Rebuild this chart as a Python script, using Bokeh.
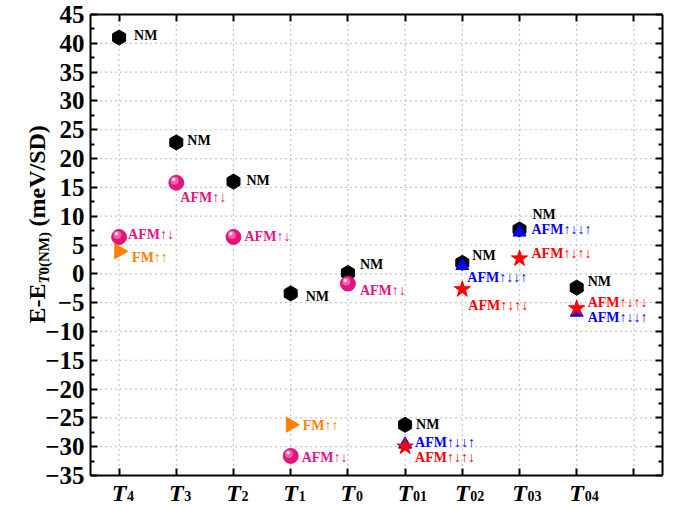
import numpy as np
from bokeh.plotting import figure
from bokeh.models import (Range1d, FixedTicker, LinearAxis,
                          Label, ColumnDataSource, CustomJSTickFormatter)
from bokeh.core.properties import value
from bokeh.transform import dodge
from bokeh.embed import file_html
from bokeh.resources import INLINE

# ---------------- data ----------------
categories = ["T4", "T3", "T2", "T1", "T0", "T01", "T02", "T03", "T04"]
tick_main = ["T"] * 9
tick_sub = ["4", "3", "2", "1", "0", "01", "02", "03", "04"]
x_ticks = [1, 2, 3, 4, 5, 6, 7, 8, 9, 10]
y_ticks = [-35, -30, -25, -20, -15, -10, -5, 0, 5, 10, 15, 20, 25, 30, 35, 40, 45]

nm_cats = ["T4", "T3", "T2", "T1", "T0", "T01", "T02", "T03", "T04"]
nm_vals = [41.0, 22.8, 16.0, -3.4, 0.15, -26.2, 1.9, 7.7, -2.4]

afm2_cats = ["T4", "T3", "T2", "T1", "T0"]
afm2_vals = [6.4, 15.8, 6.4, -31.6, -1.7]

fm_cats = ["T4", "T1"]
fm_vals = [3.9, -26.2]

afm4a_cats = ["T01", "T02", "T03", "T04"]      # AFM up-down-down-up (blue)
afm4a_vals = [-29.6, 1.4, 7.2, -6.7]

afm4b_cats = ["T01", "T02", "T03", "T04"]      # AFM up-down-up-down (red)
afm4b_vals = [-30.0, -2.7, 2.65, -6.0]

nm_label = "NM"
afm2_label = "AFM↑↓"
fm_label = "FM↑↑"
afm4a_label = "AFM↑↓↓↑"
afm4b_label = "AFM↑↓↑↓"

# label offsets (pixels) - style only
nm_dx = [15, 11, 13, 15, 12, 11, 10, 13, 11]
nm_dy = [-2, -2, -1, 3, -8, 0, -7, -15, -6]
afm2_dx = [9, 4, 11, 11, 12]
afm2_dy = [-2, 15, 0, 2, 7]
fm_dx = [13, 12]
fm_dy = [6, 1]
afm4a_dx = [10, 5, 12, 11]
afm4a_dy = [-2, 12, -3, 5]
afm4b_dx = [10, 6, 12, 11]
afm4b_dy = [11, 16, -5, -6]

pos = {c: i + 1 for i, c in enumerate(categories)}

SERIF = "Liberation Serif"
PINK = "#E6137E"
ORANGE = "#FF8000"
BLUE = "#0000FF"
RED = "#FF0000"

# ---------------- geometry (canvas px) ----------------
W, H = 679, 506
BOX_L, BOX_R, BOX_T, BOX_B = 90, 662, 14, 475
X0, X1, Y0, Y1 = 0.5, 10.5, -35, 45
sx = (BOX_R - BOX_L) / (X1 - X0)
sy = (BOX_B - BOX_T) / (Y1 - Y0)

p = figure(width=W, height=H, output_backend="svg", toolbar_location=None,
           x_range=Range1d(X0 - BOX_L / sx, X1 + (W - BOX_R) / sx),
           y_range=Range1d(Y0 - (H - BOX_B) / sy, Y1 + BOX_T / sy),
           min_border=0, x_axis_location=None, y_axis_location=None)
p.background_fill_color = "white"
p.border_fill_color = "white"
p.outline_line_color = None
p.xgrid.visible = False
p.ygrid.visible = False

xticker = FixedTicker(ticks=x_ticks, minor_ticks=[])
yticker = FixedTicker(ticks=y_ticks,
                      minor_ticks=[t + 2.5 for t in y_ticks[:-1]])
blank = CustomJSTickFormatter(code="return ''")

# grid lines (dotted) at the tick positions
p.segment(x0=x_ticks, y0=Y0, x1=x_ticks, y1=Y1, line_color="#8c8c8c",
          line_dash="1 4", line_width=1.2)
p.segment(x0=X0, y0=y_ticks, x1=X1, y1=y_ticks, line_color="#8c8c8c",
          line_dash="1 4", line_width=1.2)


def make_axis(ticker, loc, bounds, show_labels):
    ax = LinearAxis(ticker=ticker, fixed_location=loc, bounds=bounds)
    ax.axis_line_color = "black"
    ax.axis_line_width = 2
    ax.major_tick_line_color = "black"
    ax.major_tick_line_width = 2
    ax.major_tick_in = 7
    ax.major_tick_out = 0
    ax.minor_tick_line_color = "black"
    ax.minor_tick_line_width = 2
    ax.minor_tick_in = 4
    ax.minor_tick_out = 0
    if show_labels:
        ax.major_label_text_font = SERIF
        ax.major_label_text_font_style = "bold"
        ax.major_label_text_font_size = "25px"
        ax.major_label_text_color = "black"
        ax.major_label_standoff = 6
    else:
        ax.formatter = blank
        ax.major_label_standoff = 0
    return ax


p.add_layout(make_axis(yticker, X0, (Y0, Y1), True), "left")
p.add_layout(make_axis(yticker, X1, (Y0, Y1), False), "right")
p.add_layout(make_axis(xticker, Y0, (X0, X1), False), "below")
p.add_layout(make_axis(xticker, Y1, (X0, X1), False), "above")


def src(cats, vals, label, dx, dy):
    return ColumnDataSource(dict(x=[pos[c] for c in cats], y=vals,
                                 label=[label] * len(cats), dx=dx, dy=dy))


s_nm = src(nm_cats, nm_vals, nm_label, nm_dx, nm_dy)
s_afm2 = src(afm2_cats, afm2_vals, afm2_label, afm2_dx, afm2_dy)
s_fm = src(fm_cats, fm_vals, fm_label, fm_dx, fm_dy)
s_a = src(afm4a_cats, afm4a_vals, afm4a_label, afm4a_dx, afm4a_dy)
s_b = src(afm4b_cats, afm4b_vals, afm4b_label, afm4b_dx, afm4b_dy)

# markers
p.scatter("x", "y", source=s_nm, marker="hex", size=15, angle=np.pi / 6,
          fill_color="black", line_color="black")
p.scatter("x", "y", source=s_a, marker="triangle", size=13,
          fill_color=BLUE, line_color=BLUE)
p.scatter("x", "y", source=s_b, marker="star", size=17,
          fill_color=RED, line_color=RED)
p.scatter("x", "y", source=s_afm2, marker="circle", size=15,
          fill_color=PINK, line_color="#C80A68", line_width=0.8)
p.scatter(dodge("x", -0.03, range=p.x_range), dodge("y", 0.35, range=p.y_range),
          source=s_afm2, marker="circle", size=8, fill_color="#F25FA8",
          line_color=None)
p.scatter(dodge("x", -0.045, range=p.x_range), dodge("y", 0.55, range=p.y_range),
          source=s_afm2, marker="circle", size=3.5, fill_color="#FFE0F0",
          line_color=None)
p.scatter("x", "y", source=s_fm, marker="triangle", size=15, angle=-np.pi / 2,
          fill_color=ORANGE, line_color=ORANGE)

# point labels
for s, col in ((s_nm, "black"), (s_afm2, PINK), (s_fm, ORANGE),
               (s_a, BLUE), (s_b, RED)):
    p.text("x", "y", text="label", source=s, x_offset="dx", y_offset="dy",
           text_font=value(SERIF), text_font_style="bold",
           text_font_size="14px", text_color=col,
           text_align="left", text_baseline="middle")

# x tick labels (T with subscript)
for i, (m, sub) in enumerate(zip(tick_main, tick_sub)):
    p.add_layout(Label(x=x_ticks[i], y=Y0, y_offset=-17,
                       text=m, text_font=SERIF, text_font_style="bold italic",
                       text_font_size="24px", text_color="black",
                       text_align="center", text_baseline="alphabetic"))
    p.add_layout(Label(x=x_ticks[i], y=Y0, x_offset=8, y_offset=-20,
                       text=sub, text_font=SERIF,
                       text_font_style="bold", text_font_size="14px",
                       text_color="black", text_align="left",
                       text_baseline="alphabetic"))

# y axis label: E-E_{T0(NM)} (meV/SD)
ylab_parts = [("E-E", "bold", "24px", 0, 152),
              ("T", "bold italic", "15px", 7, 192),
              ("0(NM)", "bold", "15px", 7, 201),
              ("\u00a0(meV/SD)", "bold", "24px", 0, 243)]
for txt, style, size, dxp, yp in ylab_parts:
    p.add_layout(Label(x=X0, y=Y0, x_offset=-54 + dxp, y_offset=yp,
                       text=txt, angle=np.pi / 2, text_font=SERIF,
                       text_font_style=style, text_font_size=size,
                       text_color="black", text_align="left",
                       text_baseline="middle"))

open("out.html", "w").write(file_html(p, INLINE))
